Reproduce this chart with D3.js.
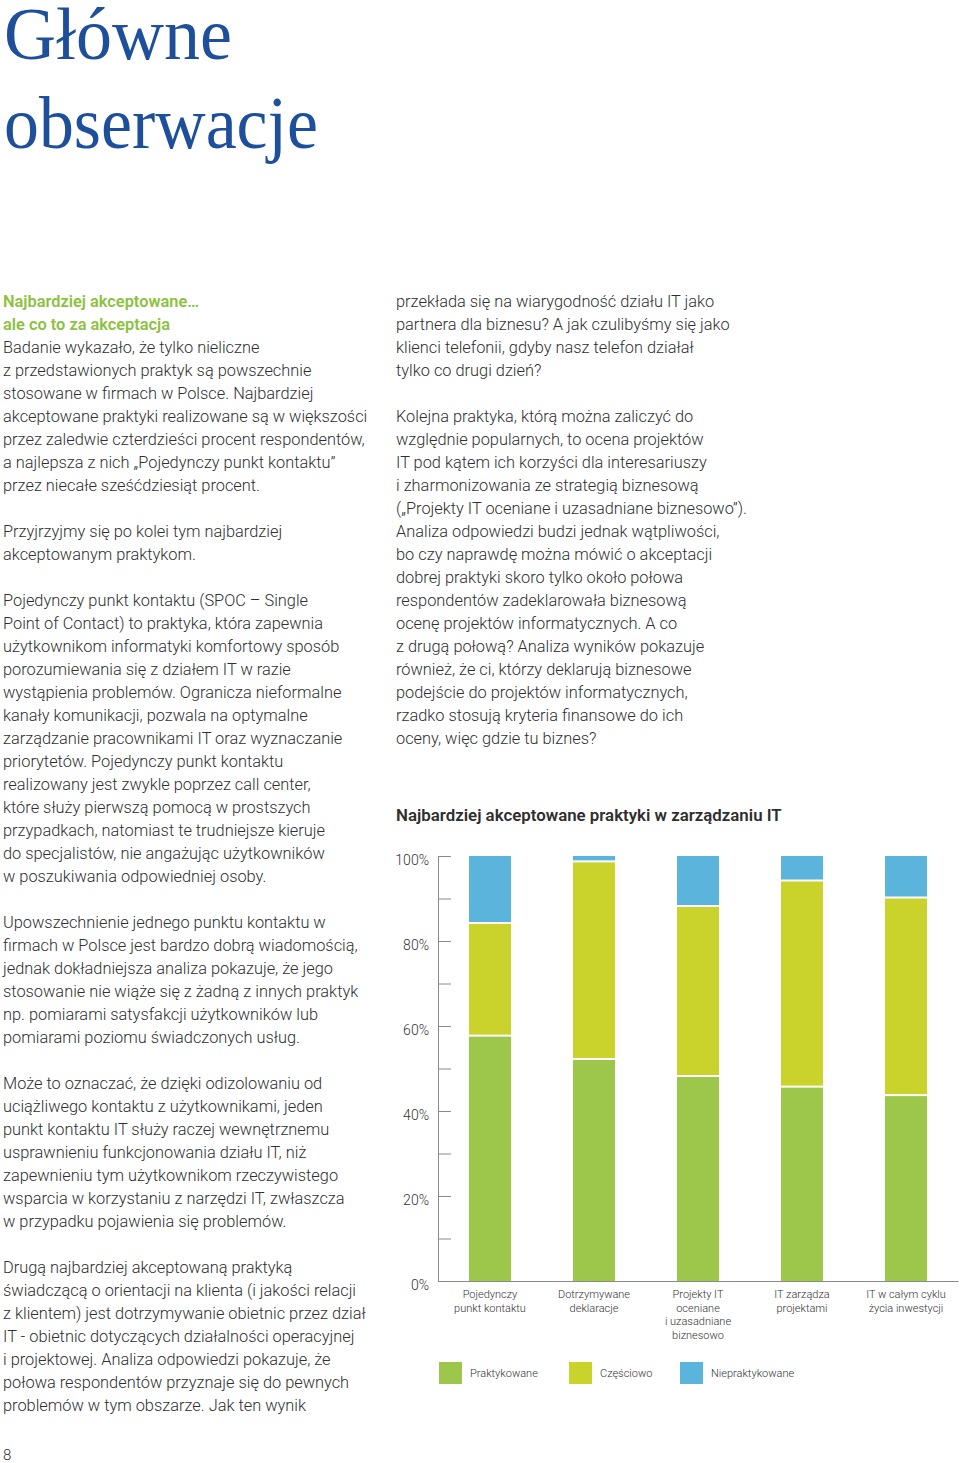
<!DOCTYPE html>
<html><head><meta charset="utf-8">
<script src="https://cdn.jsdelivr.net/npm/d3@7"></script>
<style>body{margin:0;background:#fff;} svg{display:block}</style>
</head><body>
<script>
// ---------- DATA ----------
const categories = ["Pojedynczy punkt kontaktu","Dotrzymywane deklaracje","Projekty IT oceniane i uzasadniane biznesowo","IT zarządza projektami","IT w całym cyklu życia inwestycji"];
const categoryLabels = [["Pojedynczy","punkt kontaktu"],["Dotrzymywane","deklaracje"],["Projekty IT","oceniane","i uzasadniane","biznesowo"],["IT zarządza","projektami"],["IT w całym cyklu","życia inwestycji"]];
const seriesNames = ["Praktykowane","Częściowo","Niepraktykowane"];
const praktykowane = [57.5, 52, 48, 45.5, 43.5];
const czesciowo = [26.5, 46.5, 40, 48.5, 46.5];
const niepraktykowane = [16, 1.5, 12, 6, 10];
const yTicks = [0,10,20,30,40,50,60,70,80,90,100];
const yLabelTicks = [0,20,40,60,80,100];

const titleLines = ["Główne","obserwacje"];
const chartTitle = "Najbardziej akceptowane praktyki w zarządzaniu IT";
const leftHeading = ["Najbardziej akceptowane…","ale co to za akceptacja"];
const leftLines = [
"Badanie wykazało, że tylko nieliczne",
"z przedstawionych praktyk są powszechnie",
"stosowane w firmach w Polsce. Najbardziej",
"akceptowane praktyki realizowane są w większości",
"przez zaledwie czterdzieści procent respondentów,",
"a najlepsza z nich „Pojedynczy punkt kontaktu”",
"przez niecałe sześćdziesiąt  procent.",
"",
"Przyjrzyjmy się po kolei tym najbardziej",
"akceptowanym praktykom.",
"",
"Pojedynczy punkt kontaktu (SPOC – Single",
"Point of Contact) to praktyka, która zapewnia",
"użytkownikom informatyki komfortowy sposób",
"porozumiewania się z działem IT w razie",
"wystąpienia problemów. Ogranicza nieformalne",
"kanały komunikacji, pozwala na optymalne",
"zarządzanie pracownikami IT oraz wyznaczanie",
"priorytetów. Pojedynczy punkt kontaktu",
"realizowany jest zwykle poprzez call center,",
"które służy pierwszą pomocą w prostszych",
"przypadkach, natomiast te trudniejsze kieruje",
"do specjalistów, nie angażując użytkowników",
"w poszukiwania odpowiedniej osoby.",
"",
"Upowszechnienie jednego punktu kontaktu w",
"firmach w Polsce jest bardzo dobrą wiadomością,",
"jednak dokładniejsza analiza pokazuje, że jego",
"stosowanie nie wiąże się z żadną z innych praktyk",
"np. pomiarami satysfakcji użytkowników lub",
"pomiarami poziomu świadczonych usług.",
"",
"Może to oznaczać, że dzięki odizolowaniu od",
"uciążliwego kontaktu z użytkownikami, jeden",
"punkt kontaktu IT służy raczej wewnętrznemu",
"usprawnieniu funkcjonowania działu IT, niż",
"zapewnieniu tym użytkownikom rzeczywistego",
"wsparcia w korzystaniu z narzędzi IT, zwłaszcza",
"w przypadku pojawienia się problemów.",
"",
"Drugą najbardziej akceptowaną praktyką",
"świadczącą o orientacji na klienta (i jakości relacji",
"z klientem) jest dotrzymywanie obietnic przez dział",
"IT - obietnic dotyczących działalności operacyjnej",
"i projektowej. Analiza odpowiedzi pokazuje, że",
"połowa respondentów przyznaje się do pewnych",
"problemów w tym obszarze. Jak ten wynik"
];
const rightLines = [
"przekłada się na wiarygodność działu IT jako",
"partnera dla biznesu? A jak czulibyśmy się jako",
"klienci telefonii, gdyby nasz telefon działał",
"tylko co drugi dzień?",
"",
"Kolejna praktyka, którą można zaliczyć do",
"względnie popularnych, to ocena projektów",
"IT pod kątem ich korzyści dla interesariuszy",
"i zharmonizowania ze strategią biznesową",
"(„Projekty IT oceniane i uzasadniane biznesowo”).",
"Analiza odpowiedzi budzi jednak wątpliwości,",
"bo czy naprawdę można mówić o akceptacji",
"dobrej praktyki skoro tylko około połowa",
"respondentów zadeklarowała biznesową",
"ocenę projektów informatycznych. A co",
"z drugą połową? Analiza wyników pokazuje",
"również, że ci, którzy deklarują biznesowe",
"podejście do projektów informatycznych,",
"rzadko stosują kryteria finansowe do ich",
"oceny, więc gdzie tu biznes?"
];
const pageNumber = "8";

// ---------- STYLE ----------
const W = 960, H = 1463;
const bodyFont = "Roboto, 'Noto Sans', sans-serif";
const textColor = "#2f2f2f";
const colors = ["#9cc74b", "#c9d32c", "#5bb4dc"];

const svg = d3.select("body").append("svg").attr("width", W).attr("height", H);

function fitSize(text, family, weight, target, base) {
  const t = svg.append("text").attr("font-family", family).attr("font-weight", weight)
    .attr("font-size", base).text(text);
  const w = t.node().getComputedTextLength();
  t.remove();
  return base * target / w;
}

// Title
const titleG = svg.append("g");
const titleWidths = [228, 314];
titleLines.forEach((t, i) => {
  titleG.append("text")
    .attr("x", 4).attr("y", 59 + i * 89)
    .attr("font-family", "'Liberation Serif', 'Times New Roman', serif")
    .attr("font-size", 74)
    .attr("fill", "#1d4f9b")
    .attr("textLength", titleWidths[i])
    .attr("lengthAdjust", "spacingAndGlyphs")
    .text(t);
});

// Body text
const bodySize = fitSize("przez zaledwie czterdzieści procent respondentów,", bodyFont, 300, 362, 16);
const lineH = 23, firstBase = 306.5;

const leftG = svg.append("g").attr("font-family", bodyFont).attr("font-size", bodySize);
leftHeading.forEach((t, i) => {
  leftG.append("text").attr("x", 3).attr("y", firstBase + i * lineH)
    .attr("font-weight", 600).attr("fill", "#8dc13f").text(t);
});
leftLines.forEach((t, i) => {
  if (!t) return;
  leftG.append("text").attr("x", 3).attr("y", firstBase + (i + 2) * lineH)
    .attr("font-weight", 300).attr("fill", textColor).text(t);
});

const rightG = svg.append("g").attr("font-family", bodyFont).attr("font-size", bodySize);
rightLines.forEach((t, i) => {
  if (!t) return;
  rightG.append("text").attr("x", 396).attr("y", firstBase + i * lineH)
    .attr("font-weight", 300).attr("fill", textColor).text(t);
});

// Page number
svg.append("text").attr("x", 3).attr("y", 1460).attr("font-family", bodyFont)
  .attr("font-weight", 300).attr("font-size", 15).attr("fill", textColor).text(pageNumber);

// ---------- CHART ----------
const chartTitleSize = fitSize(chartTitle, bodyFont, 600, 386, 15);
svg.append("text").attr("x", 396).attr("y", 820.5)
  .attr("font-family", bodyFont).attr("font-weight", 600).attr("font-size", chartTitleSize)
  .attr("fill", "#2e2e2e").text(chartTitle);

const x0 = 438, x1 = 958, yTop = 856, yBot = 1281;
const x = d3.scaleBand().domain(categories).range([x0, x1]).paddingInner(0.596).paddingOuter(0.298);
const y = d3.scaleLinear().domain([0, 100]).range([yBot, yTop]);

const rows = categories.map((c, i) => ({
  cat: c, Praktykowane: praktykowane[i], "Częściowo": czesciowo[i], Niepraktykowane: niepraktykowane[i]
}));
const stacked = d3.stack().keys(seriesNames)(rows);

const barsG = svg.append("g");
stacked.forEach((s, si) => {
  barsG.selectAll(null).data(s).enter().append("rect")
    .attr("x", d => x(d.data.cat))
    .attr("width", x.bandwidth())
    .attr("y", d => y(d[1]))
    .attr("height", d => Math.max(0, y(d[0]) - y(d[1]) - (d[0] > 0 ? 2 : 0)))
    .attr("fill", colors[si]);
});

// Y axis
const yAxis = d3.axisLeft(y).tickValues(yTicks).tickSizeInner(-13).tickSizeOuter(0).tickPadding(9)
  .tickFormat(d => yLabelTicks.includes(d) ? d + "%" : "");
const yg = svg.append("g").attr("transform", `translate(${x0},0)`).call(yAxis);
yg.selectAll("path, line").attr("stroke", "#8a8a8a").attr("stroke-width", 1);
yg.selectAll("text").attr("font-family", bodyFont).attr("font-weight", 300)
  .attr("font-size", 14).attr("fill", "#333").attr("dy", "0.62em");

// X axis baseline
const xAxis = d3.axisBottom(x).tickSize(0).tickFormat("");
const xg = svg.append("g").attr("transform", `translate(0,${yBot})`).call(xAxis);
xg.select("path").attr("stroke", "#8a8a8a");
xg.selectAll("text").remove();

// X labels
const xl = svg.append("g").attr("font-family", bodyFont).attr("font-weight", 300)
  .attr("font-size", 11).attr("fill", "#333").attr("text-anchor", "middle");
categories.forEach((c, i) => {
  categoryLabels[i].forEach((ln, j) => {
    xl.append("text").attr("x", x(c) + x.bandwidth() / 2).attr("y", 1298 + j * 13.6).text(ln);
  });
});

// Legend
const legendX = [439, 569, 680];
const lg = svg.append("g").attr("font-family", bodyFont).attr("font-weight", 300)
  .attr("font-size", 11).attr("fill", "#333");
seriesNames.forEach((n, i) => {
  lg.append("rect").attr("x", legendX[i]).attr("y", 1362).attr("width", 23).attr("height", 22).attr("fill", colors[i]);
  lg.append("text").attr("x", legendX[i] + 31).attr("y", 1377).text(n);
});
</script>
</body></html>
